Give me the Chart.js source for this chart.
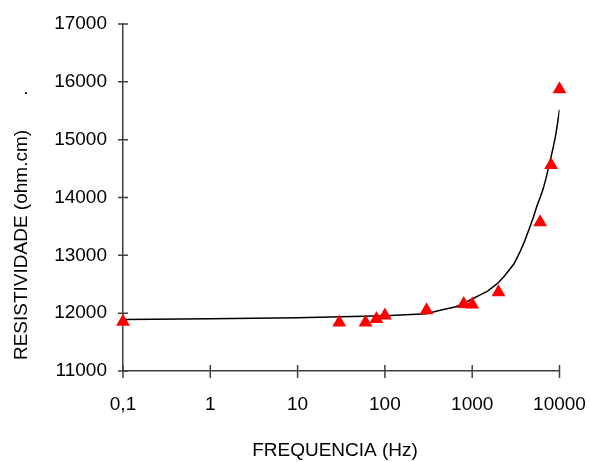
<!DOCTYPE html>
<html>
<head>
<meta charset="utf-8">
<script src="https://cdn.jsdelivr.net/npm/chart.js@4/dist/chart.umd.min.js"></script>
<style>
  html, body { margin: 0; padding: 0; background: #fff; }
  #wrap { width: 590px; height: 462px; }
</style>
</head>
<body>
<div id="wrap"><canvas id="c" width="590" height="462"></canvas></div>
<script>
// Measured resistivity (ohm.cm) against frequency (Hz)
const freqHz = [0.1, 30, 60, 80, 100, 300, 800, 1000, 2000, 6000, 8000, 10000];
const resistivity = [11850, 11840, 11840, 11900, 11960, 12050, 12160, 12150, 12360, 13570, 14560, 15870];

// Fitted trend curve
const fitFreq = [0.1, 1, 10, 100, 200, 300, 430, 650, 800, 1000, 1250, 1500, 1750, 2000, 2300, 2600, 3000, 3500, 4000, 4600, 5000, 5500, 6000, 6500, 7000, 7500, 8000, 8500, 9000, 9500, 10000];
const fitRes = [11890, 11905, 11920, 11955, 11975, 11990, 12050, 12110, 12170, 12245, 12320, 12380, 12460, 12530, 12630, 12730, 12850, 13050, 13250, 13500, 13650, 13850, 14000, 14150, 14330, 14520, 14700, 14880, 15060, 15280, 15520];

// Axis ticks
const xTickValues = [0.1, 1, 10, 100, 1000, 10000];
const xTickLabels = ['0,1', '1', '10', '100', '1000', '10000'];
const yMin = 11000, yMax = 17000, yStep = 1000;

const xTitle = 'FREQUENCIA (Hz)';
const yTitle = 'RESISTIVIDADE (ohm.cm)';

const FONT = "'Liberation Sans', Arial, sans-serif";
const FS = 19;
const AXIS_COLOR = '#404040';

// Tick marks crossing the axis lines, and axis titles
const axisDecor = {
  id: 'axisDecor',
  afterDraw(chart) {
    const ctx = chart.ctx;
    const xs = chart.scales.x, ys = chart.scales.y;
    const area = chart.chartArea;
    ctx.save();
    ctx.strokeStyle = AXIS_COLOR;
    ctx.lineWidth = 1.5;
    ctx.beginPath();
    xs.ticks.forEach(t => {
      const px = xs.getPixelForValue(t.value);
      ctx.moveTo(px, area.bottom - 6);
      ctx.lineTo(px, area.bottom + 7);
    });
    ys.ticks.forEach(t => {
      const py = ys.getPixelForValue(t.value);
      ctx.moveTo(area.left - 5, py);
      ctx.lineTo(area.left + 5, py);
    });
    ctx.stroke();

    ctx.fillStyle = '#000';
    ctx.font = FS + 'px ' + FONT;
    ctx.textAlign = 'center';
    ctx.textBaseline = 'middle';
    ctx.fillText(xTitle, 335, 451);

    ctx.translate(22, 245);
    ctx.rotate(-Math.PI / 2);
    ctx.fillText(yTitle, 0, 0);
    ctx.fillText('.', 245 - 93, 0);
    ctx.restore();
  }
};

new Chart(document.getElementById('c'), {
  data: {
    datasets: [
      {
        type: 'line',
        label: 'ajuste',
        data: fitFreq.map((f, i) => ({ x: f, y: fitRes[i] })),
        borderColor: '#000',
        borderWidth: 1.5,
        pointRadius: 0,
        fill: false,
        tension: 0,
        order: 2
      },
      {
        type: 'scatter',
        label: 'medido',
        data: freqHz.map((f, i) => ({ x: f, y: resistivity[i] })),
        pointStyle: 'triangle',
        pointRadius: 8,
        backgroundColor: '#ff0000',
        borderColor: '#ff0000',
        borderWidth: 0,
        clip: false,
        order: 1
      }
    ]
  },
  options: {
    responsive: false,
    animation: false,
    layout: { padding: { left: 0, top: 24, right: 30.5, bottom: 0 } },
    plugins: {
      legend: { display: false },
      tooltip: { enabled: false }
    },
    scales: {
      x: {
        type: 'logarithmic',
        min: 0.1,
        max: 10000,
        afterFit: s => { s.height = 91; s.paddingLeft = 0; s.paddingRight = 0; },
        afterBuildTicks: s => { s.ticks = xTickValues.map(v => ({ value: v })); },
        border: { display: true, color: AXIS_COLOR, width: 1.5 },
        grid: { display: true, drawOnChartArea: false, drawTicks: false },
        ticks: {
          color: '#000',
          font: { family: FONT, size: FS },
          padding: 22,
          maxRotation: 0,
          autoSkip: false,
          callback: (v, i) => xTickLabels[i]
        }
      },
      y: {
        type: 'linear',
        min: yMin,
        max: yMax,
        afterFit: s => { s.width = 123; s.paddingTop = 0; s.paddingBottom = 0; },
        border: { display: true, color: AXIS_COLOR, width: 1.5 },
        grid: { display: true, drawOnChartArea: false, drawTicks: false },
        ticks: {
          stepSize: yStep,
          color: '#000',
          font: { family: FONT, size: FS },
          padding: 16,
          callback: v => String(v)
        }
      }
    }
  },
  plugins: [axisDecor]
});
</script>
</body>
</html>
